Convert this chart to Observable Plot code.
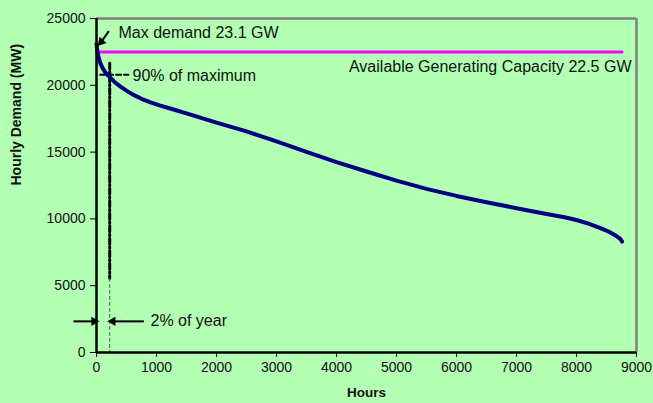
<!DOCTYPE html>
<html>
<head>
<meta charset="utf-8">
<script src="https://cdn.jsdelivr.net/npm/d3@7"></script>
<script src="https://cdn.jsdelivr.net/npm/@observablehq/plot@0.6"></script>
<style>
  html, body { margin: 0; padding: 0; background: #b3ffb3; }
</style>
</head>
<body>
<div id="chart"></div>
<script>
// Load duration curve (hours sorted by demand, MW)
const hours  = [0, 10, 30, 60, 100, 150, 200, 300, 400, 500, 600, 750, 900, 1050, 1200, 1500, 2000, 2500, 3000, 3500, 4000, 4500, 5000, 5500, 6000, 6500, 7000, 7500, 7800, 8000, 8200, 8400, 8550, 8650, 8730, 8760];
const demand = [23100, 22700, 22200, 21700, 21300, 20950, 20700, 20250, 19900, 19600, 19320, 18990, 18720, 18500, 18300, 17900, 17200, 16550, 15800, 15020, 14250, 13550, 12870, 12250, 11720, 11250, 10800, 10370, 10120, 9920, 9640, 9310, 9020, 8760, 8500, 8300];

const xTicks = [0, 1000, 2000, 3000, 4000, 5000, 6000, 7000, 8000, 9000];
const yTicks = [0, 5000, 10000, 15000, 20000, 25000];

const capacity = 22500;       // MW available generating capacity
const capacityEnd = 8760;     // hours in a year
const ninetyPct = 20790;      // 90% of max demand
const twoPctHour = 220;       // ~2% of year marker

// annotation texts with anchor points in data units
const startLabels = [
  {h: 367,  mw: 23950, text: "Max demand 23.1 GW"},
  {h: 600,  mw: 20670, text: "90% of maximum"},
  {h: 900,  mw: 2330,  text: "2% of year"}
];
const endLabels = [
  {h: 8917, mw: 21410, text: "Available Generating Capacity 22.5 GW"}
];
// arrows: start -> end in data units
const arrows = [
  {h1: 205,  mw1: 24050, h2: 80,  mw2: 23250, rot: -138},
  {h1: -383, mw1: 2330,  h2: -40, mw2: 2330,  rot: 90},
  {h1: 790,  mw1: 2330,  h2: 270, mw2: 2330,  rot: -90}
];

const curve = hours.map((h, i) => ({h, mw: demand[i]}));

const chart = Plot.plot({
  width: 653,
  height: 403,
  marginLeft: 96,
  marginRight: 17,
  marginTop: 18,
  marginBottom: 51,
  style: {background: "#b3ffb3", fontFamily: "'Liberation Sans', Arial, sans-serif", fontSize: "14px", color: "#111", overflow: "visible"},
  x: {domain: [0, 9000]},
  y: {domain: [0, 25000]},
  marks: [
    // frame
    Plot.ruleY([25000], {stroke: "#808080", strokeWidth: 2.5}),
    Plot.ruleX([9000], {stroke: "#808080", strokeWidth: 2.5}),
    // capacity line
    Plot.line([{h: 0, mw: capacity}, {h: capacityEnd, mw: capacity}], {x: "h", y: "mw", stroke: "#ff00ff", strokeWidth: 3}),
    // 2% of year vertical line: thick dash-dot upper part, thin dashed lower part
    Plot.line([{h: twoPctHour, mw: 21650}, {h: twoPctHour, mw: 5550}], {x: "h", y: "mw", stroke: "#000", strokeWidth: 3, strokeDasharray: "6,2.5,1.5,2.5"}),
    Plot.line([{h: twoPctHour, mw: 5550}, {h: twoPctHour, mw: 0}], {x: "h", y: "mw", stroke: "#555", strokeWidth: 1, strokeDasharray: "3,3"}),
    // 90% horizontal dashed marker
    Plot.line([{h: 60, mw: ninetyPct}, {h: 530, mw: ninetyPct}], {x: "h", y: "mw", stroke: "#000", strokeWidth: 2, strokeDasharray: "5,3"}),
    // demand curve
    Plot.line(curve, {x: "h", y: "mw", stroke: "#000080", strokeWidth: 4}),
    // axes
    Plot.axisX({ticks: xTicks, tickSize: 5, tickPadding: 5, label: null, fontSize: 14, tickFormat: d => String(d), stroke: "#000"}),
    Plot.axisY({ticks: yTicks, tickSize: 6, tickPadding: 5, label: null, fontSize: 14, tickFormat: d => String(d), stroke: "#000"}),
    Plot.ruleX([0], {stroke: "#000", strokeWidth: 2.5}),
    Plot.ruleY([0], {stroke: "#000", strokeWidth: 2.5}),
    // axis titles
    Plot.text(["Hours"], {frameAnchor: "bottom", dy: 44, fontWeight: "bold", fontSize: 13.5, fill: "#111"}),
    Plot.text(["Hourly Demand (MW)"], {frameAnchor: "left", dx: -80, rotate: -90, fontWeight: "bold", fontSize: 14, fill: "#111"}),
    // annotations
    Plot.text(startLabels, {x: "h", y: "mw", text: "text", textAnchor: "start", fontSize: 16, fill: "#111"}),
    Plot.text(endLabels, {x: "h", y: "mw", text: "text", textAnchor: "end", fontSize: 16, fill: "#111"}),
    Plot.link(arrows, {x1: "h1", y1: "mw1", x2: "h2", y2: "mw2", stroke: "#000", strokeWidth: 2}),
    Plot.dot(arrows, {x: "h2", y: "mw2", symbol: "triangle", r: 3.5, fill: "#000", stroke: "none", rotate: "rot"})
  ]
});
document.getElementById("chart").appendChild(chart);
</script>
</body>
</html>
